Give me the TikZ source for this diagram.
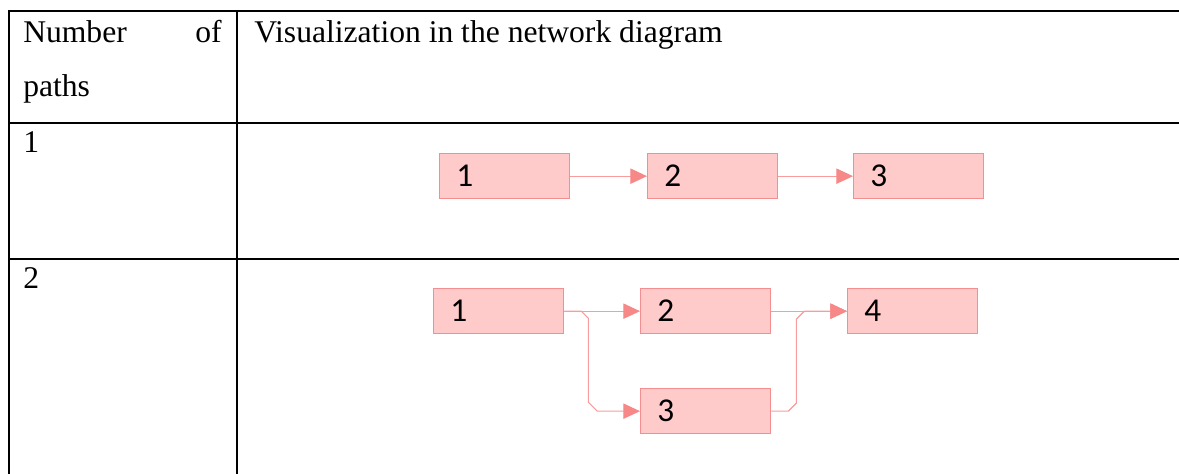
\documentclass[tikz,border=0pt]{standalone}
\usepackage{fontspec}
\setmainfont{Liberation Serif}
\newfontfamily\digitfont{Carlito}
\usetikzlibrary{arrows.meta}
\definecolor{boxfill}{HTML}{FFCACA}
\definecolor{boxline}{HTML}{F58E8E}
\definecolor{connline}{HTML}{F89C9C}
\definecolor{tipc}{HTML}{F78888}
\tikzset{
  rule/.style={line width=1.5pt, black},
  celltext/.style={inner sep=0pt, font=\fontsize{23.7}{28}\selectfont},
  actbox/.style={draw=boxline, fill=boxfill, line width=1pt, inner xsep=0pt, inner ysep=0pt,
    minimum width=97.5pt, minimum height=33.75pt, text width=97.5pt, text height=15.5pt, text depth=0pt,
    anchor=north west, font=\digitfont\fontsize{25}{30}\selectfont},
  conn/.style={draw=connline, line width=0.85pt},
  arr/.style={conn, -{Triangle[length=12.5pt,width=11.5pt,color=tipc]}}
}
\begin{document}
\begin{tikzpicture}[x=0.75pt,y=-0.75pt]
\useasboundingbox (0,0) rectangle (1179,474);
% table rules
\draw[rule] (8,11) -- (1179,11);
\draw[rule] (8,123) -- (1179,123);
\draw[rule] (8,259) -- (1179,259);
\draw[rule] (9,11) -- (9,474);
\draw[rule] (237,11) -- (237,474);
% header texts
\node[celltext, anchor=base west] (hnum) at (23,43) {Number};
\node[celltext, anchor=base east] (hof) at (222,43) {of};
\node[celltext, anchor=base west] (hpaths) at (23,97) {paths};
\node[celltext, anchor=base west] (hvis) at (254,43) {Visualization in the network diagram};
\node[celltext, anchor=base west] (rone) at (23,153) {1};
\node[celltext, anchor=base west] (rtwo) at (23,289) {2};
% row 1
\node[actbox] (a1) at (439,153) {\hspace*{12.5pt}1};
\node[actbox] (a2) at (647,153) {\hspace*{12.5pt}2};
\node[actbox] (a3) at (853,153) {\hspace*{12.5pt}3};
\draw[arr] (a1.east) -- (a2.west);
\draw[arr] (a2.east) -- (a3.west);
% row 2
\node[actbox] (b1) at (433,288) {\hspace*{12.5pt}1};
\node[actbox] (b2) at (640,288) {\hspace*{12.5pt}2};
\node[actbox] (b3) at (640,388) {\hspace*{12.5pt}3};
\node[actbox] (b4) at (847,288) {\hspace*{12.5pt}4};
\draw[arr] (b1.east) -- (b2.west);
\draw[arr] (b1.east) -- ++(17,0) -- ++(7,7) -- ++(0,84) -- ++(9,9) -- (b3.west);
\draw[arr] (b2.east) -- (b4.west);
\draw[arr] (b3.east) -- ++(17,0) -- ++(8,-8) -- ++(0,-84) -- ++(8,-8) -- (b4.west);
\end{tikzpicture}
\end{document}
